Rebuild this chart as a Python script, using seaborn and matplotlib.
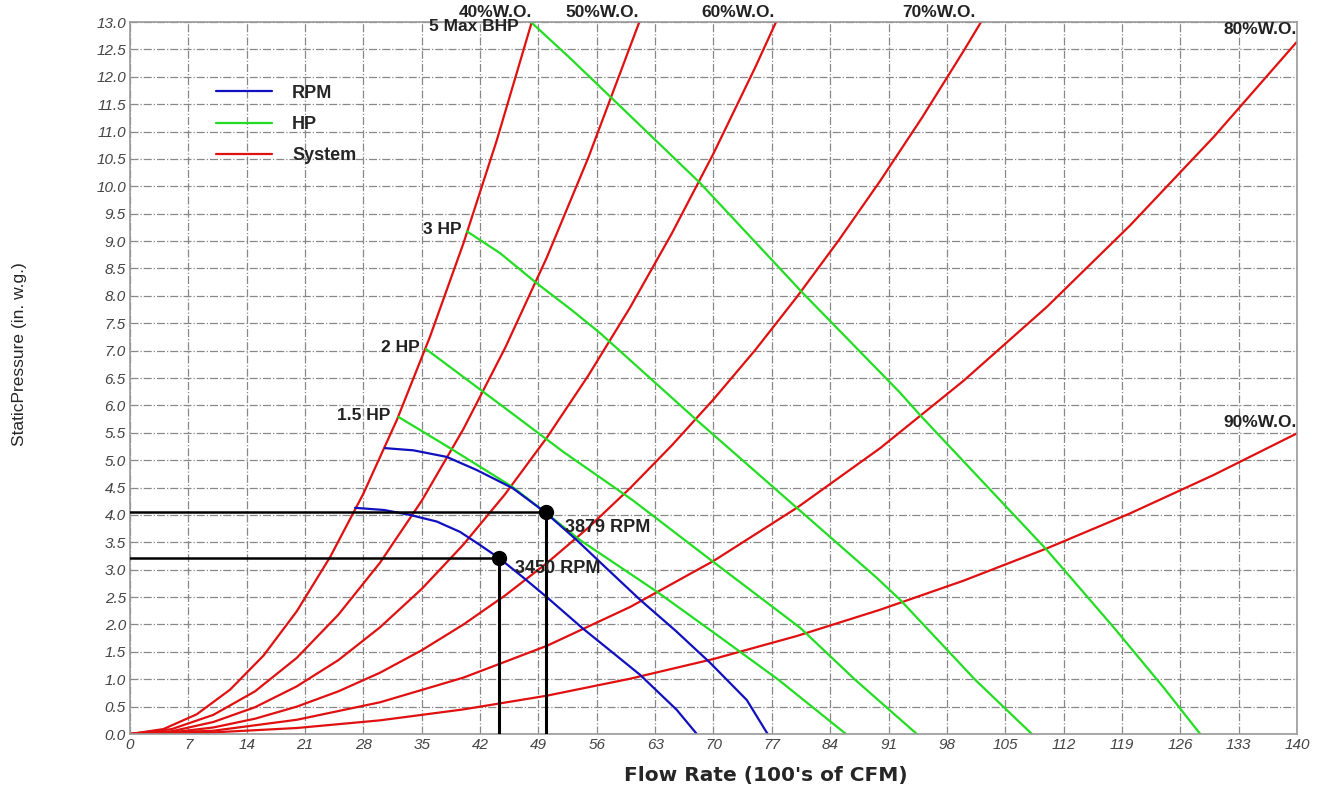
import numpy as np
import pandas as pd
import matplotlib
matplotlib.use("Agg")
import matplotlib.pyplot as plt
import seaborn as sns
from matplotlib.lines import Line2D

# system curves (% wide open), flow in 100's of CFM vs static pressure
sys40_q = [0, 4, 8, 12, 16, 20, 24, 28, 32, 36, 40, 44, 48.2]
sys40_p = [0, 0.09, 0.36, 0.81, 1.43, 2.24, 3.23, 4.39, 5.73, 7.26, 8.96, 10.84, 13.0]
sys50_q = [0, 5, 10, 15, 20, 25, 30, 35, 40, 45, 50, 55, 61.1]
sys50_p = [0, 0.09, 0.35, 0.78, 1.39, 2.18, 3.13, 4.26, 5.57, 7.05, 8.70, 10.53, 13.0]
sys60_q = [0, 5, 10, 15, 20, 25, 30, 35, 40, 45, 50, 55, 60, 65, 70, 75, 77.5]
sys60_p = [0, 0.05, 0.22, 0.49, 0.87, 1.35, 1.95, 2.65, 3.46, 4.38, 5.41, 6.55, 7.79, 9.14, 10.60, 12.17, 13.0]
sys70_q = [0, 5, 10, 15, 20, 25, 30, 35, 40, 45, 50, 55, 60, 65, 70, 75, 80, 85, 90, 95, 100, 102.1]
sys70_p = [0, 0.03, 0.12, 0.28, 0.50, 0.78, 1.12, 1.53, 2.00, 2.53, 3.12, 3.77, 4.49, 5.27, 6.11, 7.01,
           7.98, 9.01, 10.10, 11.25, 12.47, 13.0]
sys80_q = [0, 10, 20, 30, 40, 50, 60, 70, 80, 90, 100, 110, 120, 130, 140]
sys80_p = [0, 0.06, 0.26, 0.58, 1.03, 1.61, 2.32, 3.16, 4.13, 5.22, 6.45, 7.80, 9.29, 10.90, 12.64]
sys90_q = [0, 10, 20, 30, 40, 50, 60, 70, 80, 90, 100, 110, 120, 130, 140]
sys90_p = [0, 0.03, 0.11, 0.25, 0.45, 0.70, 1.01, 1.37, 1.79, 2.27, 2.80, 3.39, 4.03, 4.73, 5.49]

# horsepower curves
hp15_q = [32.2, 38.4, 45.9, 49.8, 54.0, 63.2, 70.5, 77.8, 85.9]
hp15_p = [5.79, 5.22, 4.51, 4.05, 3.54, 2.60, 1.80, 0.99, 0.0]
hp2_q = [35.5, 45.0, 52.0, 60.3, 70.0, 80.4, 87.0, 94.4]
hp2_p = [7.03, 5.95, 5.15, 4.27, 3.14, 1.94, 0.99, 0.0]
hp3_q = [40.4, 44.4, 48.8, 53.0, 56.4, 68.0, 80.0, 89.6, 92.4, 101.4, 108.2]
hp3_p = [9.18, 8.78, 8.23, 7.74, 7.32, 5.73, 4.13, 2.85, 2.45, 0.99, 0.0]
hp5_q = [48.1, 52.8, 57.8, 68.4, 80.6, 92.4, 94.8, 110.0, 118.0, 124.0, 128.4]
hp5_p = [13.0, 12.34, 11.61, 10.06, 8.07, 6.23, 5.82, 3.36, 1.95, 0.85, 0.0]

# fan speed curves
rpm3879_q = [30.6, 34.0, 38.0, 41.6, 45.9, 49.8, 53.6, 57.0, 61.2, 65.5, 69.6, 74.0, 76.5]
rpm3879_p = [5.22, 5.18, 5.06, 4.82, 4.49, 4.05, 3.54, 3.05, 2.45, 1.88, 1.30, 0.62, 0.0]
rpm3450_q = [27.0, 30.5, 33.6, 36.8, 39.6, 42.0, 44.3, 47.0, 50.0, 54.3, 57.8, 61.2, 65.6, 68.0]
rpm3450_p = [4.13, 4.09, 4.00, 3.88, 3.69, 3.45, 3.21, 2.88, 2.50, 1.93, 1.50, 1.08, 0.44, 0.0]

# operating points
op_q = [49.9, 44.3]
op_p = [4.05, 3.21]
op_labels = ["3879 RPM", "3450 RPM"]

sys_labels = ["40%W.O.", "50%W.O.", "60%W.O.", "70%W.O.", "80%W.O.", "90%W.O."]
hp_labels = ["1.5 HP", "2 HP", "3 HP", "5 Max BHP"]

sns.set_style("white")
plt.rcParams["font.family"] = ["Liberation Sans", "DejaVu Sans"]

fig = plt.figure(figsize=(13.35, 7.87), dpi=100)
ax = fig.add_axes([0.0974, 0.0673, 0.8741, 0.9047])

red = "#e01010"
green = "#22dd22"
blue = "#1010c0"

sys_curves = [(sys40_q, sys40_p), (sys50_q, sys50_p), (sys60_q, sys60_p),
              (sys70_q, sys70_p), (sys80_q, sys80_p), (sys90_q, sys90_p)]
hp_curves = [(hp15_q, hp15_p), (hp2_q, hp2_p), (hp3_q, hp3_p), (hp5_q, hp5_p)]
rpm_curves = [(rpm3879_q, rpm3879_p), (rpm3450_q, rpm3450_p)]

for q, p in sys_curves:
    sns.lineplot(x=q, y=p, color=red, lw=1.6, sort=False, estimator=None, ax=ax)
for q, p in hp_curves:
    sns.lineplot(x=q, y=p, color=green, lw=1.6, sort=False, estimator=None, ax=ax)
for q, p in rpm_curves:
    sns.lineplot(x=q, y=p, color=blue, lw=1.6, sort=False, estimator=None, ax=ax)

# operating point guide lines
for q, p in zip(op_q, op_p):
    ax.plot([0, q], [p, p], color="black", lw=1.8, zorder=4)
    ax.plot([q, q], [0, p], color="black", lw=2.2, zorder=4)
    ax.plot(q, p, "o", color="black", ms=10, zorder=5)
ax.text(52.2, 3.78, op_labels[0], fontsize=13, fontweight="bold",
        color="#222222", va="center", zorder=6)
ax.text(46.2, 3.03, op_labels[1], fontsize=13, fontweight="bold",
        color="#222222", va="center", zorder=6)

# labels on system curves
top_pos = [(43.8, 13.17), (56.6, 13.17), (73.0, 13.17), (97.0, 13.17), (135.6, 12.86), (135.6, 5.69)]
for (x, y), lab in zip(top_pos, sys_labels):
    ax.text(x, y, lab, fontsize=12.5, fontweight="bold", color="#222222",
            ha="center", va="center", clip_on=False)

# labels on hp curves
hp_pos = [(31.2, 5.82), (34.8, 7.05), (39.8, 9.22), (46.6, 12.92)]
for (x, y), lab in zip(hp_pos, hp_labels):
    ax.text(x, y, lab, fontsize=12.5, fontweight="bold", color="#222222",
            ha="right", va="center", clip_on=False)

ax.set_xlim(0, 140)
ax.set_ylim(0, 13)
ax.set_xticks(np.arange(0, 141, 7))
ax.set_yticks(np.arange(0, 13.01, 0.5))
ax.set_yticklabels(["%.1f" % v for v in np.arange(0, 13.01, 0.5)])
ax.tick_params(length=0, labelsize=11, labelcolor="#444444", pad=3)
for t in ax.get_xticklabels() + ax.get_yticklabels():
    t.set_fontstyle("italic")
ax.grid(True, color="#888888", linestyle="-.", lw=0.9)
for s in ax.spines.values():
    s.set_color("#999999")
    s.set_linewidth(1.2)

ax.set_xlabel("Flow Rate (100's of CFM)", fontsize=14.5, fontweight="bold",
              family="DejaVu Sans", va="center")
ax.xaxis.set_label_coords(0.545, -0.0576)
ax.set_ylabel("StaticPressure (in. w.g.)", fontsize=12.5)
ax.yaxis.set_label_coords(-0.088, 0.534)

handles = [Line2D([], [], color=blue, lw=1.6), Line2D([], [], color=green, lw=1.6),
           Line2D([], [], color=red, lw=1.6)]
leg = ax.legend(handles, ["RPM", "HP", "System"], loc="upper left",
                bbox_to_anchor=(0.06, 0.935), frameon=False, handlelength=3.1,
                labelspacing=0.8, handletextpad=1.1, prop={"weight": "bold", "size": 13})

plt.savefig("out.png", dpi=100)
